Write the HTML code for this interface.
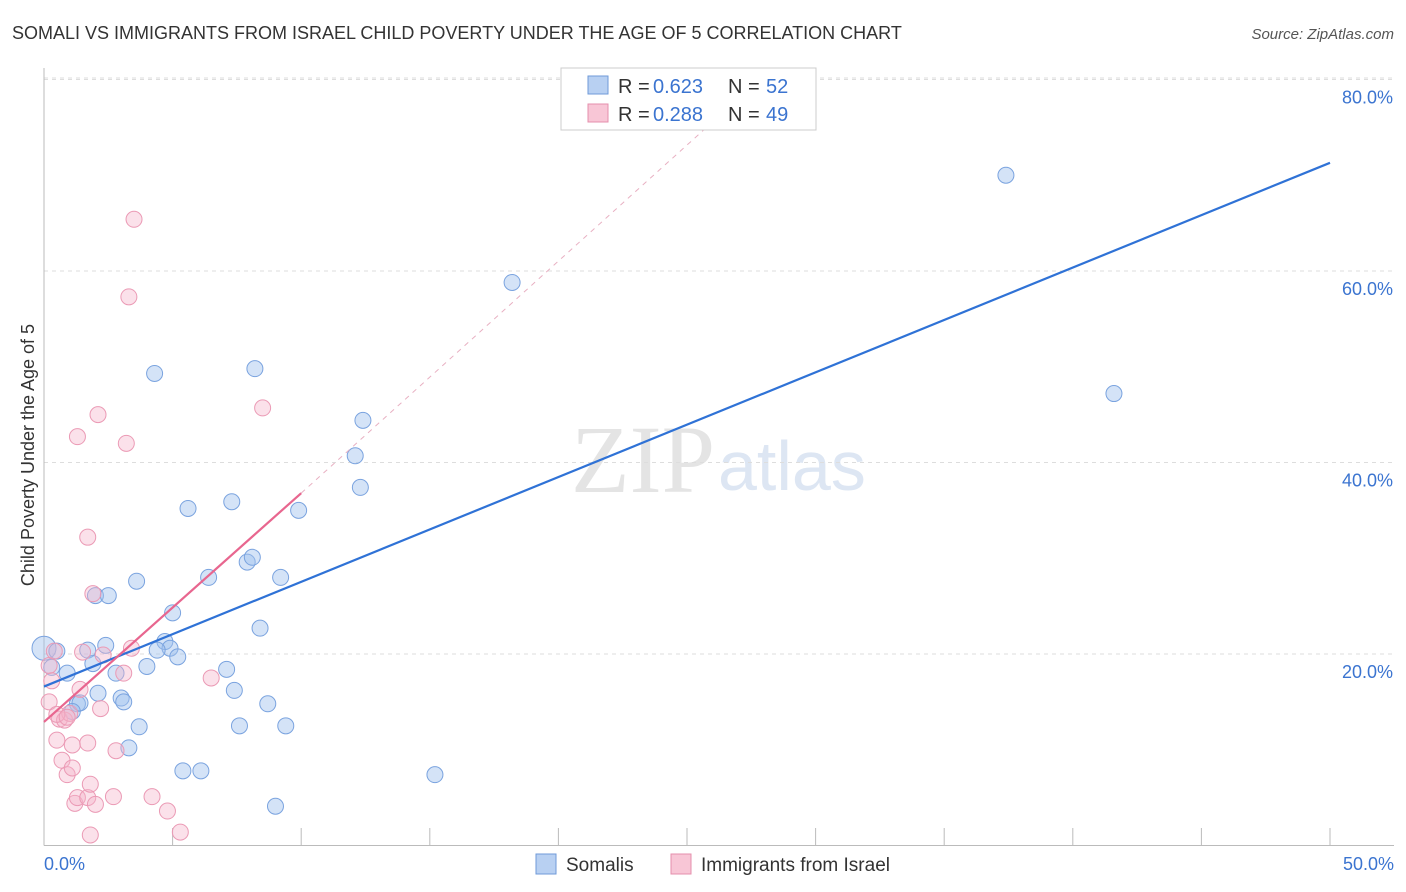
<!DOCTYPE html>
<html><head><meta charset="utf-8"><style>
body{margin:0;background:#fff;font-family:"Liberation Sans",sans-serif}
svg{display:block}
</style></head><body>
<svg id="c" width="1406" height="892">
<text x="12" y="39" font-size="18" fill="#333">SOMALI VS IMMIGRANTS FROM ISRAEL CHILD POVERTY UNDER THE AGE OF 5 CORRELATION CHART</text>
<text x="1394" y="39" font-size="15" fill="#555" font-style="italic" text-anchor="end">Source: ZipAtlas.com</text>
<text x="34" y="455" font-size="18" fill="#333" text-anchor="middle" transform="rotate(-90 34 455)">Child Poverty Under the Age of 5</text>
<text x="715" y="492" font-size="96" fill="#e4e4e4" text-anchor="end" font-family="Liberation Serif">ZIP</text>
<text x="718" y="490" font-size="70" fill="#dde6f3">atlas</text>
<g id="grid"></g><g id="axes"></g><g id="pts"></g><g id="lines"></g>
<g>
<rect x="561" y="68" width="255" height="62" fill="#fff" stroke="#ccc"/>
<rect x="588" y="76" width="20" height="18" fill="#b8d0f2" stroke="#6f9ad8"/>
<rect x="588" y="104" width="20" height="18" fill="#f8c6d6" stroke="#e58fac"/>
<text y="93" font-size="20" fill="#333"><tspan x="618">R =</tspan><tspan x="653" fill="#3b74d0">0.623</tspan><tspan x="728">N =</tspan><tspan x="766" fill="#3b74d0">52</tspan></text>
<text y="121" font-size="20" fill="#333"><tspan x="618">R =</tspan><tspan x="653" fill="#3b74d0">0.288</tspan><tspan x="728">N =</tspan><tspan x="766" fill="#3b74d0">49</tspan></text>
</g>
<g>
<rect x="536" y="854" width="20" height="20" fill="#b8d0f2" stroke="#6f9ad8"/>
<text x="566" y="871" font-size="19" fill="#333">Somalis</text>
<rect x="671" y="854" width="20" height="20" fill="#f8c6d6" stroke="#e58fac"/>
<text x="701" y="871" font-size="19" fill="#333">Immigrants from Israel</text>
</g>
<text x="44" y="870" font-size="18" fill="#3b74d0">0.0%</text>
<text x="1394" y="870" font-size="18" fill="#3b74d0" text-anchor="end">50.0%</text>
</svg>
<script>
const yTicks=[20,40,60,80];
const xTicks=[0,5,10,15,20,25,30,35,40,45,50];
const somaliX=[0,0.5,0.3,0.9,1.7,1.9,2.0,2.5,2.4,3.6,2.1,1.3,1.4,1.1,3.0,3.1,2.8,4.0,4.7,4.9,4.4,5.2,5.0,3.7,3.3,4.3,5.6,6.4,7.3,7.9,8.1,8.2,9.2,8.4,7.1,7.4,7.6,8.7,9.4,9.9,12.1,12.4,12.3,5.4,6.1,9.0,15.2,18.2,37.4,41.6];
const somaliY=[20.6,20.3,18.6,18.0,20.4,19.0,26.1,26.1,20.9,27.6,15.9,14.8,14.9,14.0,15.4,15.0,18.0,18.7,21.3,20.6,20.4,19.7,24.3,12.4,10.2,49.3,35.2,28.0,35.9,29.6,30.1,49.8,28.0,22.7,18.4,16.2,12.5,14.8,12.5,35.0,40.7,44.4,37.4,7.8,7.8,4.1,7.4,58.8,70.0,47.2];
const israelX=[0.2,0.3,0.4,0.6,0.8,1.0,0.5,0.7,0.9,1.1,1.2,1.3,1.7,1.8,2.0,1.8,1.3,1.7,1.9,2.1,2.2,2.3,2.8,2.7,3.1,3.2,3.3,3.5,3.4,4.2,4.8,5.3,6.5,8.5,1.5,1.4,1.1,0.2,1.7,0.5,0.9];
const israelY=[18.8,17.2,20.3,13.2,13.1,13.8,11.0,8.9,7.4,10.5,4.4,5.0,5.0,6.4,4.3,1.1,42.7,32.2,26.3,45.0,14.3,19.9,9.9,5.1,18.0,42.0,57.3,65.4,20.6,5.1,3.6,1.4,17.5,45.7,20.2,16.3,8.1,15.0,10.7,13.7,13.4];
const blueLine=[[0,16.6],[50,71.3]];
const pinkLine=[[0,12.9],[10,36.8]];
const pinkDash=[[10,36.8],[27,78]];
const X=v=>44+v*25.72, Y=v=>845.5-v*9.575;
const NS="http://www.w3.org/2000/svg";
function mk(t,a,p){const e=document.createElementNS(NS,t);for(const k in a)e.setAttribute(k,a[k]);p.appendChild(e);return e;}
const gGrid=document.getElementById('grid'),gAx=document.getElementById('axes'),gPts=document.getElementById('pts'),gLn=document.getElementById('lines');
yTicks.forEach(t=>{
 const l=mk('line',{x1:44,x2:1394,y1:Y(t),y2:Y(t),stroke:'#ddd','stroke-dasharray':'4,4'},gGrid);
 
 
 const tx=mk('text',{x:1393,y:Y(t)+24,'font-size':18,fill:'#3b74d0','text-anchor':'end'},gGrid);
 tx.textContent=t.toFixed(1)+'%';
 
 
});
const topGrid=mk('line',{x1:44,x2:1394,y1:78,y2:78,stroke:'#ddd','stroke-dasharray':'4,4'},gGrid);


const xa=mk('line',{x1:44,x2:1394,y1:845.5,y2:845.5,stroke:'#bbb'},gAx);


const ya=mk('line',{x1:44,x2:44,y1:68,y2:845.5,stroke:'#bbb'},gAx);


xTicks.forEach(t=>{
 const l=mk('line',{x1:X(t),x2:X(t),y1:828,y2:845,stroke:'#bbb'},gAx);
 
 
});
somaliX.forEach((v,i)=>{
 const c=mk('circle',{cx:X(v),cy:Y(somaliY[i]),r:i==0?12:8,fill:'rgba(160,192,238,0.45)',stroke:'#7aa3df','stroke-width':1},gPts);
 
 
});
israelX.forEach((v,i)=>{
 const c=mk('circle',{cx:X(v),cy:Y(israelY[i]),r:8,fill:'rgba(246,180,202,0.4)',stroke:'#eb9ab5','stroke-width':1},gPts);
 
 
});
const bl=mk('line',{x1:X(blueLine[0][0]),y1:Y(blueLine[0][1]),x2:X(blueLine[1][0]),y2:Y(blueLine[1][1]),stroke:'#2f72d6','stroke-width':2.2},gLn);


const pl=mk('line',{x1:X(pinkLine[0][0]),y1:Y(pinkLine[0][1]),x2:X(pinkLine[1][0]),y2:Y(pinkLine[1][1]),stroke:'#e8668f','stroke-width':2.2},gLn);


const dl=mk('line',{x1:X(pinkDash[0][0]),y1:Y(pinkDash[0][1]),x2:X(pinkDash[1][0]),y2:Y(pinkDash[1][1]),stroke:'#e8b0c2','stroke-width':1,'stroke-dasharray':'5,5'},gLn);


</script>
</body></html>
